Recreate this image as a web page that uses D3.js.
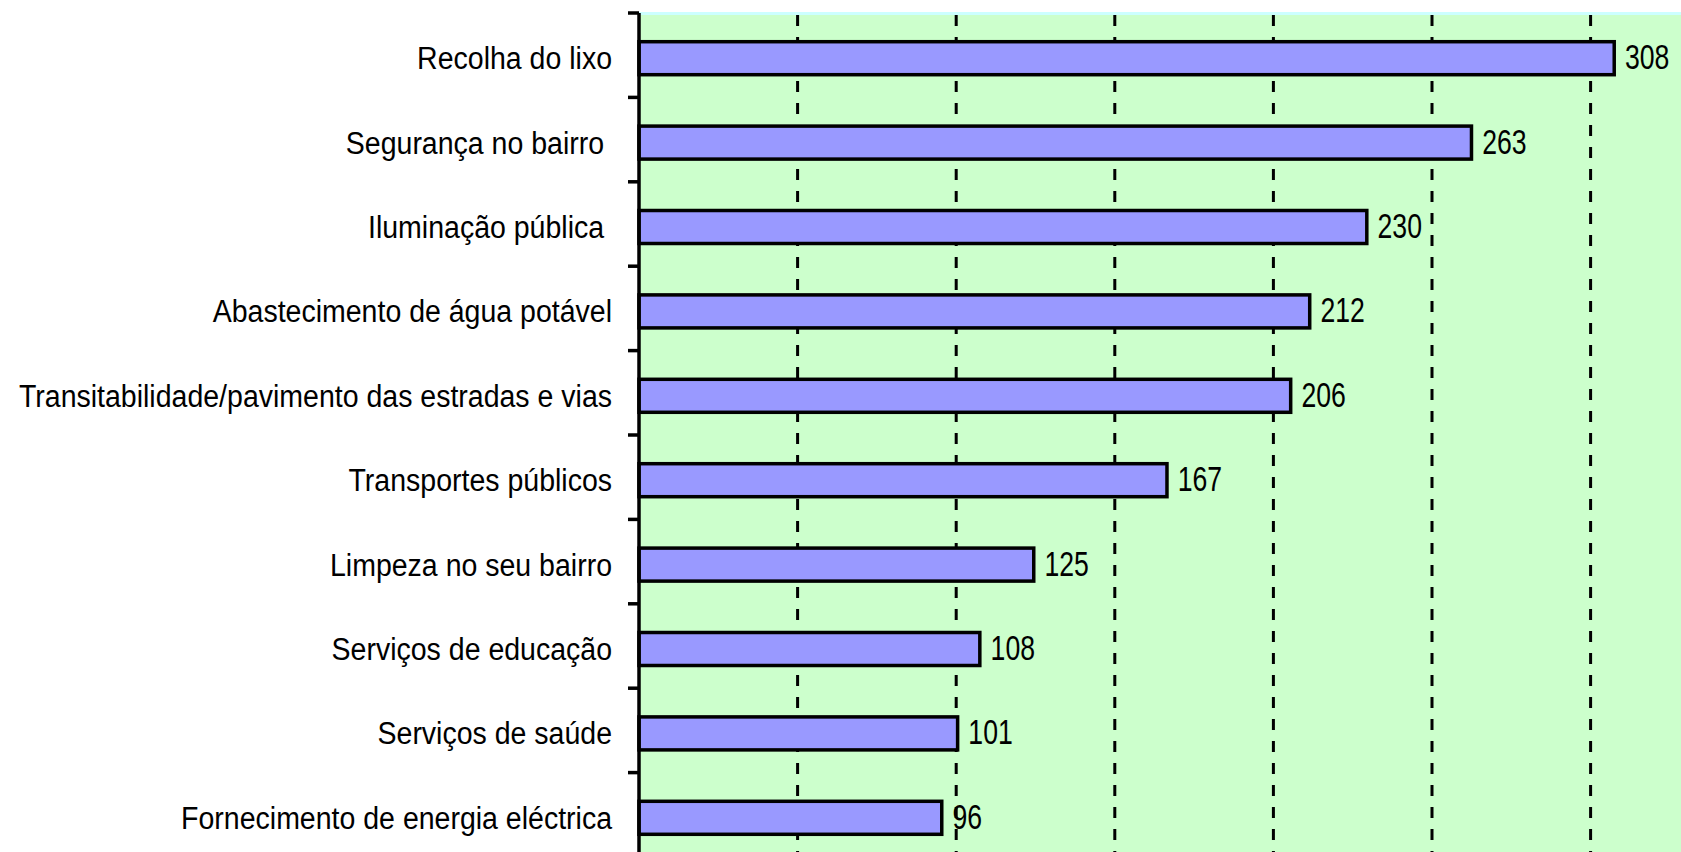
<!DOCTYPE html>
<html>
<head>
<meta charset="utf-8">
<script src="https://cdn.jsdelivr.net/npm/d3@7"></script>
<style>
  html, body { margin: 0; padding: 0; background: #ffffff; }
  svg { display: block; }
  text { white-space: pre; }
</style>
</head>
<body>
<script>
const categories = [
  "Recolha do lixo",
  "Segurança no bairro ",
  "Iluminação pública ",
  "Abastecimento de água potável",
  "Transitabilidade/pavimento das estradas e vias",
  "Transportes públicos",
  "Limpeza no seu bairro",
  "Serviços de educação",
  "Serviços de saúde",
  "Fornecimento de energia eléctrica"
];
const values = [308, 263, 230, 212, 206, 167, 125, 108, 101, 96];
const gridTicks = [50, 100, 150, 200, 250, 300];

const W = 1681, H = 852;
const plot = { left: 639, top: 13, right: 1681, bottom: 857 };

const svg = d3.select("body").append("svg").attr("width", W).attr("height", H);

const x = d3.scaleLinear().domain([0, 350]).range([plot.left, plot.left + 350 * 3.172]);
const y = d3.scaleBand().domain(categories).range([plot.top, plot.bottom]).padding(0);

// plot background
svg.append("rect")
  .attr("x", plot.left).attr("y", plot.top)
  .attr("width", W - plot.left).attr("height", H - plot.top)
  .attr("fill", "#CCFFCC");
// light top border
svg.append("rect")
  .attr("x", plot.left).attr("y", plot.top - 1)
  .attr("width", W - plot.left).attr("height", 3)
  .attr("fill", "#CCFFFF");

// grid lines
svg.append("g").selectAll("line").data(gridTicks).join("line")
  .attr("x1", d => x(d)).attr("x2", d => x(d))
  .attr("y1", plot.top + 2).attr("y2", H)
  .attr("stroke", "#000").attr("stroke-width", 3)
  .attr("stroke-dasharray", "11,11");

// bars
const barH = 33, sw = 3.5;
svg.append("g").selectAll("rect").data(values).join("rect")
  .attr("x", x(0))
  .attr("y", (d, i) => y(categories[i]) + (y.step() - barH) / 2 + 3)
  .attr("width", d => x(d) - x(0) - sw / 2)
  .attr("height", barH)
  .attr("fill", "#9999FF")
  .attr("stroke", "#000").attr("stroke-width", sw);

// value labels
svg.append("g").selectAll("text").data(values).join("text")
  .attr("transform", (d, i) => `translate(${x(d) + 9},${y(categories[i]) + y.step() / 2 + 14}) scale(0.74,1)`)
  .attr("font-family", "'Liberation Sans', Arial, sans-serif")
  .attr("font-size", 36)
  .attr("fill", "#000")
  .text(d => d);

// y axis line
svg.append("line")
  .attr("x1", plot.left).attr("x2", plot.left)
  .attr("y1", plot.top).attr("y2", H)
  .attr("stroke", "#000").attr("stroke-width", 3.5);

// y ticks at band boundaries
svg.append("g").selectAll("line").data(categories).join("line")
  .attr("x1", plot.left - 11).attr("x2", plot.left)
  .attr("y1", d => y(d)).attr("y2", d => y(d))
  .attr("stroke", "#000").attr("stroke-width", 3.5);

// category labels
svg.append("g").selectAll("text").data(categories).join("text")
  .attr("transform", d => `translate(612,${y(d) + y.step() / 2 + 14}) scale(0.92,1)`)
  .attr("text-anchor", "end")
  .attr("font-family", "'Liberation Sans', Arial, sans-serif")
  .attr("font-size", 31)
  .attr("fill", "#000")
  .text(d => d);
</script>
</body>
</html>
